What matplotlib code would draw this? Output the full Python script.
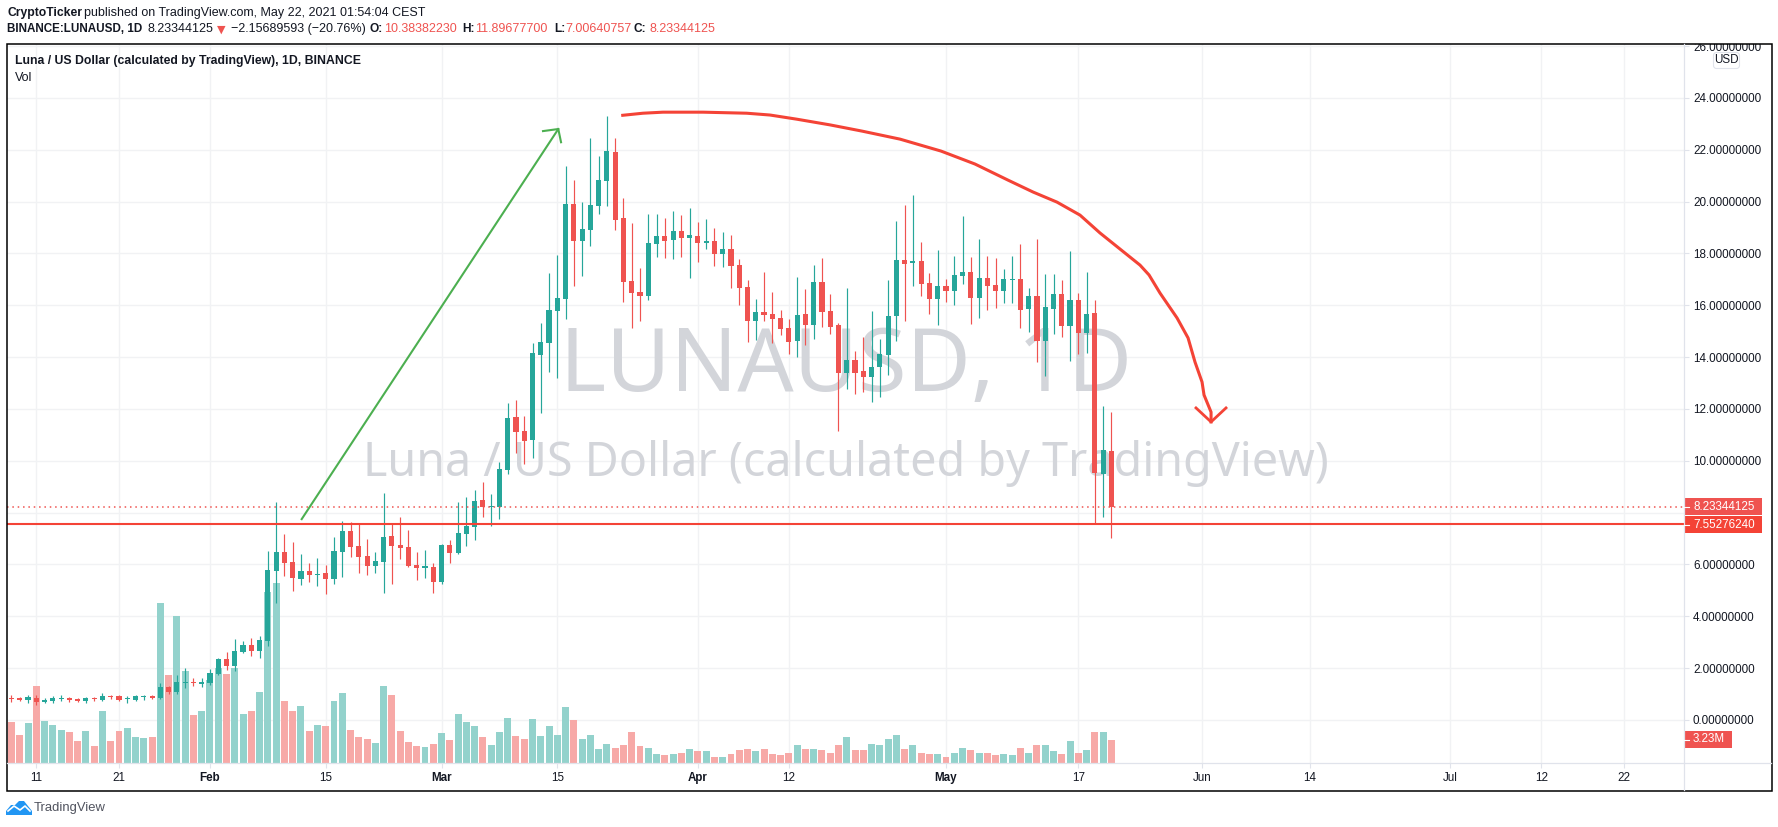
import numpy as np
import pandas as pd
import matplotlib
matplotlib.use("Agg")
import matplotlib.pyplot as plt
from matplotlib.patches import Rectangle, FancyBboxPatch, Polygon

plt.rcParams["font.family"] = ["Liberation Sans", "DejaVu Sans"]

GREEN = "#26a69a"
RED = "#ef5350"
LINE_RED = "#f44336"
TEXT = "#131722"
GRID = "#f1f2f4"
AXIS = "#e0e3eb"
WATERMARK = "#d3d5da"

# one candle per day, 2021-01-08 to 2021-05-21
highs = [.96, .89, .96, .96, .84, .93, .95, .90, .85, .89, .89, 1.03, .96, .96, .93, .96, .98, .98, 1.41, 1.32, 1.72, 1.99, 1.61, 1.61,
         1.95, 2.39, 2.61, 3.12, 3.03, 3.16, 3.24, 6.52, 8.41, 7.18, 6.87, 6.40, 6.06, 6.25, 5.98, 7.06, 7.68, 7.65, 7.61, 6.98, 6.48, 8.76, 7.59, 7.83, 7.33, 6.48, 6.56, 6.06,
         6.79, 6.94, 8.41, 8.60, 8.87, 9.18, 8.72, 9.95, 12.23, 12.35, 11.73, 14.54, 15.32, 17.25, 17.94, 21.37, 20.83, 19.98, 22.45, 21.76, 23.30, 22.45, 20.14, 19.17, 17.44, 19.52, 19.52, 19.37, 19.64, 19.48, 19.75,
         19.21, 19.33, 18.98, 18.83, 18.71, 17.79, 16.98, 16.24, 17.28, 16.51, 15.82, 15.47, 17.09, 16.63, 17.55, 17.82, 16.44, 15.32, 16.67, 14.24, 14.78, 15.78, 14.70, 16.98, 19.25, 19.87, 20.25, 18.44, 17.25, 18.13,
         17.01, 17.90, 19.44, 17.86, 18.56, 17.90, 17.82, 17.40, 17.90, 18.36, 16.67, 18.56, 17.21, 17.21, 16.98, 18.09, 16.47, 17.28, 16.20, 12.11, 11.90]
lows = [.71, .73, .67, .58, .64, .66, .73, .71, .69, .66, .72, .72, .81, .73, .66, .73, .78, .80, .81, 1.00, 1.00, 1.23, 1.31, 1.27,
        1.35, 1.74, 1.93, 1.89, 2.58, 2.47, 2.39, 2.85, 4.51, 5.56, 4.98, 5.21, 5.32, 5.17, 4.86, 5.25, 5.52, 6.29, 5.67, 5.59, 5.67, 4.90, 5.25, 6.21, 5.90, 5.40, 5.48, 4.90,
        5.25, 6.06, 6.40, 6.71, 6.94, 7.83, 7.48, 7.75, 9.49, 10.30, 9.88, 10.11, 11.84, 13.43, 13.19, 15.47, 16.74, 17.13, 18.29, 19.52, 19.83, 18.90, 16.13, 15.12, 15.39, 16.20, 17.86, 17.82, 17.79, 17.86, 17.05,
        17.67, 18.17, 17.52, 17.48, 16.67, 16.01, 14.58, 14.66, 15.39, 14.54, 14.85, 14.12, 14.00, 14.47, 14.70, 15.16, 14.89, 11.15, 12.77, 12.58, 12.65, 12.27, 12.46, 13.31, 14.62, 15.39, 16.74, 16.36, 15.66, 15.24,
        16.13, 16.01, 16.82, 15.28, 15.51, 15.82, 15.90, 16.09, 16.09, 15.12, 14.97, 13.81, 13.27, 14.89, 14.78, 13.85, 14.12, 14.16, 7.56, 7.83, 7.006]
opens = [.84, .86, .78, .85, .71, .73, .82, .86, .82, .75, .84, .76, .93, .93, .82, .77, .89, .93, .85, 1.26, 1.08, 1.44, 1.47, 1.40,
         1.43, 1.77, 2.34, 2.08, 2.62, 2.89, 2.66, 3.05, 5.75, 6.48, 6.10, 5.44, 5.75, 5.59, 5.67, 5.44, 6.48, 7.29, 6.71, 6.33, 5.94, 6.10, 7.10, 6.75, 6.67, 5.98, 5.88, 5.90,
         5.32, 6.75, 6.44, 7.18, 7.45, 8.49, 8.22, 8.22, 9.65, 11.69, 11.15, 10.80, 14.08, 14.54, 15.78, 16.24, 19.91, 18.48, 18.90, 19.83, 20.79, 21.91, 19.37, 16.94, 16.51, 16.36, 18.36, 18.67, 18.52, 18.86, 18.60,
         18.67, 18.40, 18.48, 17.98, 18.17, 17.55, 16.71, 15.39, 15.74, 15.66, 15.51, 15.12, 14.62, 15.66, 15.24, 16.90, 15.78, 15.24, 13.39, 13.89, 13.46, 13.23, 13.62, 14.08, 15.59, 17.75, 17.64, 17.71, 16.86, 16.24,
         16.74, 16.55, 17.13, 17.28, 16.28, 17.05, 16.78, 16.55, 16.98, 17.01, 15.86, 16.36, 14.62, 15.86, 16.44, 15.20, 16.20, 14.93, 15.70, 9.49, 10.38]
closes = [.81, .77, .87, .69, .78, .86, .86, .77, .73, .84, .80, .93, .89, .77, .85, .93, .91, .85, 1.27, 1.08, 1.47, 1.47, 1.41, 1.47,
          1.81, 2.34, 2.08, 2.66, 2.89, 2.66, 3.09, 5.79, 6.48, 6.06, 5.48, 5.75, 5.59, 5.63, 5.44, 6.52, 7.29, 6.67, 6.29, 5.94, 6.13, 7.06, 6.71, 6.64, 5.94, 5.86, 5.94, 5.32,
          6.75, 6.44, 7.21, 7.48, 8.45, 8.22, 8.25, 9.68, 11.65, 11.11, 10.76, 14.16, 14.58, 15.82, 16.28, 19.91, 18.48, 18.94, 19.87, 20.83, 21.95, 19.29, 16.90, 16.47, 16.36, 18.40, 18.67, 18.48, 18.86, 18.60, 18.71,
          18.40, 18.48, 17.98, 18.17, 17.52, 16.67, 15.39, 15.74, 15.62, 15.47, 15.08, 14.58, 15.62, 15.24, 16.90, 15.74, 15.16, 13.39, 13.89, 13.39, 13.23, 13.62, 14.12, 15.59, 17.75, 17.59, 17.71, 16.82, 16.24, 16.74,
          16.55, 17.17, 17.28, 16.28, 17.05, 16.74, 16.55, 17.01, 17.01, 15.82, 16.36, 14.62, 15.93, 16.44, 15.20, 16.20, 14.93, 15.66, 9.53, 10.42, 8.23]
volumes = [5.74, 3.89, 5.60, 10.86, 5.88, 5.31, 4.60, 4.32, 3.04, 4.46, 2.32, 7.30, 3.04, 4.46, 4.89, 3.60, 3.46, 3.60, 22.67, 12.43, 20.82, 13.00, 6.74, 7.30,
           11.72, 13.42, 12.57, 13.42, 6.88, 7.30, 10.01, 24.24, 25.52, 8.73, 7.30, 8.02, 4.46, 5.31, 5.17, 8.73, 9.87, 4.60, 3.60, 3.32, 2.75, 10.86, 9.58, 4.46, 2.89, 2.32, 2.18, 2.61,
           4.13, 3.27, 6.97, 5.83, 5.26, 3.56, 2.56, 4.41, 6.40, 3.70, 3.41, 6.26, 3.84, 5.26, 3.98, 7.83, 5.98, 3.41, 3.98, 1.85, 2.70, 2.13, 2.42, 4.27, 2.28, 2.13, 1.28, 1.00, 1.28, 1.42, 1.85,
           1.57, 1.57, .85, .85, 1.14, 1.71, 1.85, 1.57, 1.99, 1.28, 1.00, 1.42, 2.42, 1.85, 1.99, 1.71, 1.42, 2.56, 3.56, 1.71, 1.71, 2.70, 2.56, 3.41, 3.98, 1.99, 2.42, 1.42, 1.14, 1.14,
           .85, 1.42, 2.13, 1.71, 1.42, 1.42, 1.00, 1.14, 1.00, 2.13, 1.42, 2.42, 2.56, 1.57, 1.28, 2.99, 1.42, 1.71, 4.27, 4.27, 3.23]

last_price = 8.23344125
support_price = 7.55276240

tick_dates = ["2021-01-11", "2021-01-21", "2021-02-01", "2021-02-15", "2021-03-01", "2021-03-15", "2021-04-01", "2021-04-12",
              "2021-05-01", "2021-05-17", "2021-06-01", "2021-06-14", "2021-07-01", "2021-07-12", "2021-07-22"]
tick_labels = ["11", "21", "Feb", "15", "Mar", "15", "Apr", "12", "May", "17", "Jun", "14", "Jul", "12", "22"]
month_labels = ["Feb", "Mar", "Apr", "May"]
price_ticks = list(range(0, 28, 2))
hidden_price_tick = 8  # sits behind the price boxes

# hand drawn marks, x in days since 2021-01-01, y in price
up_arrow_x = [42.09, 73.12]
up_arrow_y = [7.75, 22.80]
up_head_x = [71.27, 73.12, 73.45]
up_head_y = [22.72, 22.80, 22.29]
curve_x = [80.91, 83.36, 85.78, 90.62, 95.90, 98.72, 101.95, 105.97, 109.84, 114.44, 119.39, 123.50, 127.49, 130.52, 133.42,
           136.20, 138.62, 141.04, 143.46, 144.55, 145.88, 147.94, 149.27, 150.11, 150.96, 151.20, 152.05, 152.05]
curve_y = [23.33, 23.41, 23.45, 23.45, 23.41, 23.34, 23.18, 22.96, 22.72, 22.41, 21.95, 21.45, 20.83, 20.37, 19.98,
           19.48, 18.79, 18.17, 17.55, 17.17, 16.47, 15.51, 14.74, 13.81, 13.04, 12.54, 11.88, 11.50]
curve_head_x = [150.23, 152.05, 153.86]
curve_head_y = [12.04, 11.50, 12.04]


def day_number(dates):
    return (pd.to_datetime(dates) - pd.Timestamp("2021-01-01")).days


W, H = 1778, 827
LEFT, RIGHT, TOP, BOTTOM = 6.5, 1683.5, 43.5, 762.5
SMALL = 9.0


def draw_text(ax, x, y, s, size=SMALL, color=TEXT, weight="normal", **kw):
    ax.text(x, y, s, fontsize=size, color=color, fontweight=weight, va="center", **kw)


days = np.arange(len(closes)) + day_number(["2021-01-08"])[0]
opens_a, closes_a = np.array(opens), np.array(closes)
up = closes_a >= opens_a
colors = np.where(up, GREEN, RED)
vol_colors = np.where(up, "#93d2cc", "#f7a9a7")

fig = plt.figure(figsize=(W / 100, H / 100), dpi=100, facecolor="white")
rect = [LEFT / W, 1 - BOTTOM / H, (RIGHT - LEFT) / W, (BOTTOM - TOP) / H]
xlim = (10 + (LEFT - 36.3) / 8.27, 10 + (RIGHT - 36.3) / 8.27)
ylim = ((720 - BOTTOM) / 25.92, (720 - TOP) / 25.92)

# back layer: grid, axis labels and the watermark
ax = fig.add_axes(rect, zorder=1)
ax.set_xlim(xlim)
ax.set_ylim(ylim)
ax.set_xticks(day_number(tick_dates))
ax.set_xticklabels(tick_labels)
ax.set_yticks(price_ticks)
ax.set_yticklabels(["" if p == hidden_price_tick else "%.8f" % p for p in price_ticks])
ax.yaxis.tick_right()
ax.grid(True, color=GRID, linewidth=1)
ax.set_axisbelow(True)
ax.tick_params(axis="both", length=3.6, width=0.8, color=AXIS, labelcolor=TEXT, labelsize=8.4)
ax.tick_params(axis="x", pad=3)
ax.tick_params(axis="y", pad=3.2)
for side in ax.spines.values():
    side.set_visible(False)
for label in ax.get_xticklabels():
    if label.get_text() in month_labels:
        label.set_fontweight("bold")
for label in ax.get_yticklabels():
    if label.get_text().startswith("26"):
        label.set_clip_on(True)
        label.set_clip_box(matplotlib.transforms.Bbox([[0, 0], [W, H - TOP]]))
ax.text(0.5006, 0.516, "LUNAUSD, 1D", transform=ax.transAxes, fontsize=63.5, color=WATERMARK,
        ha="center", va="baseline", family=["Noto Sans"])
ax.text(0.5006, 0.399, "Luna / US Dollar (calculated by TradingView)", transform=ax.transAxes, fontsize=33.6, color=WATERMARK,
        ha="center", va="baseline", family=["Noto Sans"])

# volume
ax_vol = fig.add_axes(rect, zorder=2)
ax_vol.patch.set_visible(False)
ax_vol.set_xlim(xlim)
ax_vol.set_ylim(0, (BOTTOM - TOP) * 0.1423)
ax_vol.bar(days, volumes, width=0.84, color=vol_colors, linewidth=0)
ax_vol.axis("off")

# candles and the drawings
ax_price = fig.add_axes(rect, zorder=3)
ax_price.patch.set_visible(False)
ax_price.set_xlim(xlim)
ax_price.set_ylim(ylim)
ax_price.vlines(days, lows, highs, colors=colors, linewidth=0.85)
bodies = np.abs(closes_a - opens_a)
ax_price.bar(days, np.maximum(bodies, 0.04), bottom=np.minimum(opens_a, closes_a), width=0.62, color=colors, linewidth=0)
ax_price.axhline(last_price, color=RED, linewidth=1.1, linestyle=(0, (1, 2.5)))
ax_price.axhline(support_price, color=LINE_RED, linewidth=1.5)
ax_price.plot(up_arrow_x, up_arrow_y, color="#4caf50", linewidth=1.5)
ax_price.plot(up_head_x, up_head_y, color="#4caf50", linewidth=1.5)
ax_price.plot(curve_x, curve_y, color=LINE_RED, linewidth=2.2)
ax_price.plot(curve_head_x, curve_head_y, color=LINE_RED, linewidth=2.0)
ax_price.axis("off")

# everything outside the plot, in figure pixels
chrome = fig.add_axes([0, 0, 1, 1], zorder=4)
chrome.set_xlim(0, W)
chrome.set_ylim(H, 0)
chrome.axis("off")
chrome.add_patch(Rectangle((6.5, 43.5), 1765, 747, fill=False, edgecolor="black", linewidth=1.1))
chrome.plot([RIGHT, RIGHT], [43.5, 790], color=AXIS, linewidth=0.9)
chrome.plot([LEFT, 1771], [BOTTOM, BOTTOM], color=AXIS, linewidth=0.9)

draw_text(chrome, 7, 12.7, "CryptoTicker", weight="bold", size=8.7)
draw_text(chrome, 84, 12.7, "published on TradingView.com, May 22, 2021 01:54:04 CEST")
draw_text(chrome, 7, 29.3, "BINANCE:LUNAUSD, 1D", weight="bold", size=8.4)
draw_text(chrome, 147, 29.3, "8.23344125")
chrome.text(221.5, 29.3, "\u25bc", color=RED, fontsize=8, ha="center", va="center", family=["DejaVu Sans"])
draw_text(chrome, 231, 29.3, "\u22122.15689593 (\u221220.76%)")
for x, head, x2, val in [(369, "O:", 384, "10.38382230"), (462, "H:", 475, "11.89677700"),
                         (554, "L:", 565, "7.00640757"), (633, "C:", 650, "8.23344125")]:
    draw_text(chrome, x, 29.3, head, weight="bold", size=8.6)
    draw_text(chrome, x2, 29.3, val, color=RED)
draw_text(chrome, 15, 61, "Luna / US Dollar (calculated by TradingView), 1D, BINANCE", weight="bold", size=8.8)
draw_text(chrome, 15, 78, "Vol")

chrome.add_patch(Rectangle((RIGHT, 498), 78, 17, facecolor=RED, edgecolor="none"))
chrome.add_patch(Rectangle((RIGHT, 516), 78, 17, facecolor=LINE_RED, edgecolor="none"))
chrome.add_patch(Rectangle((RIGHT, 731), 48, 17, facecolor=RED, edgecolor="none"))
for tick_y in [506.5, 524.5, 739.5]:
    chrome.plot([RIGHT, RIGHT + 5], [tick_y, tick_y], color="white", linewidth=0.8)
draw_text(chrome, 1693, 506.5, "8.23344125", color="white", size=8.4)
draw_text(chrome, 1693, 524.5, "7.55276240", color="white", size=8.4)
draw_text(chrome, 1693, 739.5, "3.23M", color="white", size=8.4)
chrome.add_patch(FancyBboxPatch((1715, 54), 23, 13, boxstyle="round,pad=1.5,rounding_size=3", facecolor="white",
                                edgecolor=AXIS, linewidth=0.8))
chrome.text(1726.5, 60, "USD", fontsize=8.4, color=TEXT, ha="center", va="center")

# TradingView logo
chrome.add_patch(Polygon([(6, 815), (6, 811), (11, 805), (15, 805), (19, 801), (24, 801), (28, 806), (32, 811), (32, 815)],
                         closed=True, facecolor="#2196f3", edgecolor="none"))
chrome.plot([8, 14, 20, 25, 30], [811, 806, 810, 806, 811], color="white", linewidth=1.2)
draw_text(chrome, 34, 808.5, "TradingView", color="#50535e", size=9.4)

fig.savefig("out.png", dpi=100, facecolor="white")
